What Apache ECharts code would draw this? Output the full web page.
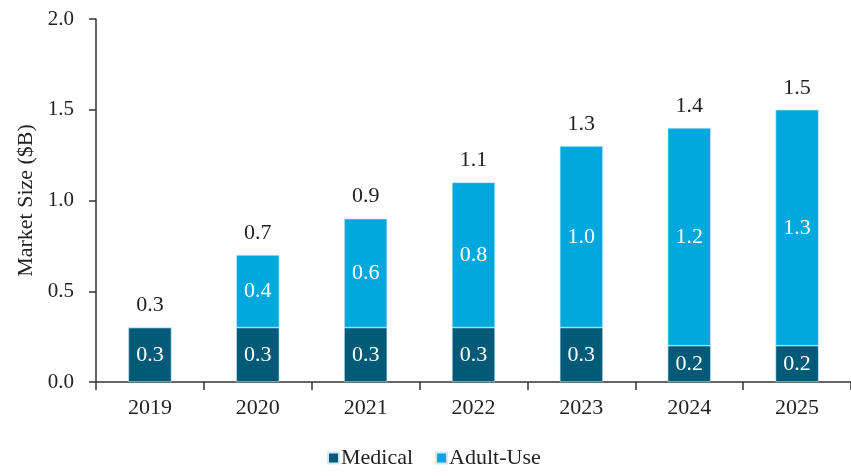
<!DOCTYPE html>
<html>
<head>
<meta charset="utf-8">
<script src="https://cdn.jsdelivr.net/npm/echarts@6/dist/echarts.min.js"></script>
<style>
  html, body { margin: 0; padding: 0; background: #fff; }
  #chart { width: 851px; height: 476px; }
</style>
</head>
<body>
<div id="chart"></div>
<script>
const years = ['2019', '2020', '2021', '2022', '2023', '2024', '2025'];
const medical = [0.3, 0.3, 0.3, 0.3, 0.3, 0.2, 0.2];
const adultUse = [0, 0.4, 0.6, 0.8, 1.0, 1.2, 1.3];
const totals = [0.3, 0.7, 0.9, 1.1, 1.3, 1.4, 1.5];

const font = '"Liberation Serif", "Times New Roman", serif';
const textColor = '#222';

const chart = echarts.init(document.getElementById('chart'));

chart.setOption({
  animation: false,
  textStyle: { fontFamily: font },
  grid: { left: 96, right: 0, top: 19, bottom: 94 },
  legend: {
    data: ['Medical', 'Adult-Use'],
    bottom: 2,
    left: 322,
    icon: 'rect',
    itemWidth: 11,
    itemHeight: 11,
    itemGap: 22,
    textStyle: { fontFamily: font, fontSize: 22, color: textColor, padding: [0, 0, 0, -3] }
  },
  xAxis: {
    type: 'category',
    data: years,
    axisLine: { lineStyle: { color: '#333', width: 1.5 } },
    axisTick: { show: true, length: 8, lineStyle: { color: '#333', width: 1.5 } },
    axisLabel: { fontFamily: font, fontSize: 22, color: textColor, margin: 15 }
  },
  yAxis: {
    type: 'value',
    min: 0,
    max: 2,
    interval: 0.5,
    name: 'Market Size ($B)',
    nameLocation: 'middle',
    nameGap: 51,
    nameTextStyle: { fontFamily: font, fontSize: 22, color: textColor },
    axisLine: { show: true, lineStyle: { color: '#333', width: 1.5 } },
    axisTick: { show: true, length: 7, lineStyle: { color: '#333', width: 1.5 } },
    axisLabel: { fontFamily: font, fontSize: 21, color: textColor, margin: 22, formatter: v => v.toFixed(1) },
    splitLine: { show: false }
  },
  series: [
    {
      name: 'Medical',
      type: 'bar',
      stack: 'total',
      barWidth: '40%',
      barGap: '-100%',
      data: medical,
      itemStyle: { color: '#005A78', borderColor: '#cfeaf3', borderWidth: 0.6 },
      label: { show: true, position: 'inside', color: '#fff', fontFamily: font, fontSize: 22, formatter: p => p.value.toFixed(1) }
    },
    {
      name: 'Adult-Use',
      type: 'bar',
      stack: 'total',
      barWidth: '40%',
      barGap: '-100%',
      data: adultUse,
      itemStyle: { color: '#00A8DE', borderColor: '#cfeaf3', borderWidth: 0.6 },
      label: { show: true, position: 'inside', color: '#fff', fontFamily: font, fontSize: 22, formatter: p => p.value ? p.value.toFixed(1) : '' }
    },
    {
      name: 'Total',
      type: 'bar',
      barWidth: '40%',
      barGap: '-100%',
      data: totals,
      itemStyle: { color: 'transparent' },
      label: { show: true, position: 'top', distance: 11, color: textColor, fontFamily: font, fontSize: 22, formatter: p => p.value.toFixed(1) },
      z: 1
    }
  ]
});
</script>
</body>
</html>
